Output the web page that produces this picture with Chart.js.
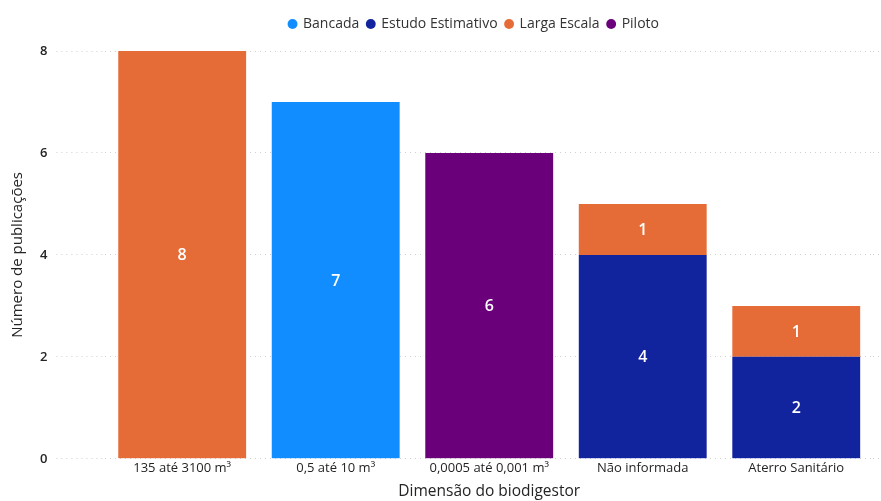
<!DOCTYPE html>
<html>
<head>
<meta charset="utf-8">
<script src="https://cdn.jsdelivr.net/npm/chart.js@4/dist/chart.umd.min.js"></script>
<style>
  html, body { margin: 0; padding: 0; background: #fff; }
  #wrap { width: 881px; height: 501px; }
</style>
</head>
<body>
<div id="wrap"><canvas id="c"></canvas></div>
<script>
// Dimensão do biodigestor × escala do estudo
const categories = ['135 até 3100 m³', '0,5 até 10 m³', '0,0005 até 0,001 m³', 'Não informada', 'Aterro Sanitário'];
const bancada = [null, 7, null, null, null];
const estudoEstimativo = [null, null, null, 4, 2];
const largaEscala = [8, null, null, 1, 1];
const piloto = [null, null, 6, null, null];
const yTicks = [0, 2, 4, 6, 8];

const FONT = "'Open Sans', 'Noto Sans', sans-serif";
const TEXT = '#252423';

// writes each segment's value in the middle of its bar
const barValues = {
  id: 'barValues',
  afterDatasetsDraw(chart) {
    const ctx = chart.ctx;
    ctx.save();
    ctx.fillStyle = '#fff';
    ctx.font = `600 16px ${FONT}`;
    ctx.textAlign = 'center';
    ctx.textBaseline = 'middle';
    chart.data.datasets.forEach((ds, i) => {
      const meta = chart.getDatasetMeta(i);
      if (meta.hidden) return;
      meta.data.forEach((bar, j) => {
        const v = ds.data[j];
        if (v == null) return;
        const { x, y, base } = bar.getProps(['x', 'y', 'base'], true);
        ctx.fillText(String(v), x, (y + base) / 2 + 1);
      });
    });
    ctx.restore();
  }
};

// extra room under the legend, and the legend nudged right
const legendSpacing = {
  id: 'legendSpacing',
  beforeInit(chart) {
    const legend = chart.legend;
    const fit = legend.fit;
    legend.fit = function () {
      fit.call(this);
      this.height += 10;
    };
  },
  afterLayout(chart) {
    chart.legend.left += 29;
    chart.legend.right += 29;
  }
};

new Chart(document.getElementById('c'), {
  type: 'bar',
  data: {
    labels: categories,
    datasets: [
      { label: 'Bancada', data: bancada, backgroundColor: '#118DFF' },
      { label: 'Estudo Estimativo', data: estudoEstimativo, backgroundColor: '#12239E' },
      { label: 'Larga Escala', data: largaEscala, backgroundColor: '#E66C37' },
      { label: 'Piloto', data: piloto, backgroundColor: '#6B007B' }
    ]
  },
  options: {
    responsive: true,
    maintainAspectRatio: false,
    animation: false,
    layout: { padding: { left: 9, right: 0, top: 9, bottom: 0 } },
    datasets: { bar: { categoryPercentage: 1, barPercentage: 0.833, skipNull: false } },
    plugins: {
      tooltip: { enabled: false },
      legend: {
        position: 'top',
        labels: {
          usePointStyle: true,
          pointStyle: 'circle',
          boxWidth: 7,
          boxHeight: 7,
          padding: 8,
          color: '#333',
          font: { family: FONT, size: 14 }
        }
      }
    },
    scales: {
      x: {
        stacked: true,
        grid: { display: false, drawTicks: false },
        border: { display: false },
        ticks: { color: TEXT, font: { family: FONT, size: 13 }, padding: 2, maxRotation: 0 },
        title: {
          display: true,
          text: 'Dimensão do biodigestor',
          color: TEXT,
          font: { family: FONT, size: 15.5 },
          padding: { top: 4, bottom: 0 }
        }
      },
      y: {
        stacked: true,
        min: 0,
        max: 8,
        afterBuildTicks(axis) { axis.ticks = yTicks.map(v => ({ value: v })); },
        grid: {
          color: '#cfcfcf',
          borderDash: [1, 4],
          tickLength: 49,
          tickColor: '#cfcfcf',
          tickBorderDash: [1, 4]
        },
        border: { display: false, dash: [1, 4] },
        ticks: { color: TEXT, font: { family: FONT, size: 13, weight: '600' }, padding: 9 },
        title: {
          display: true,
          text: 'Número de publicações',
          color: TEXT,
          font: { family: FONT, size: 15 },
          padding: { top: 0, bottom: 4 }
        }
      },
      yRight: {
        position: 'right',
        min: 0,
        max: 8,
        afterBuildTicks(axis) { axis.ticks = yTicks.map(v => ({ value: v })); },
        grid: {
          drawOnChartArea: false,
          tickLength: 8,
          tickColor: '#cfcfcf',
          tickBorderDash: [1, 4]
        },
        border: { display: false },
        ticks: { display: false }
      }
    }
  },
  plugins: [barValues, legendSpacing]
});
</script>
</body>
</html>
